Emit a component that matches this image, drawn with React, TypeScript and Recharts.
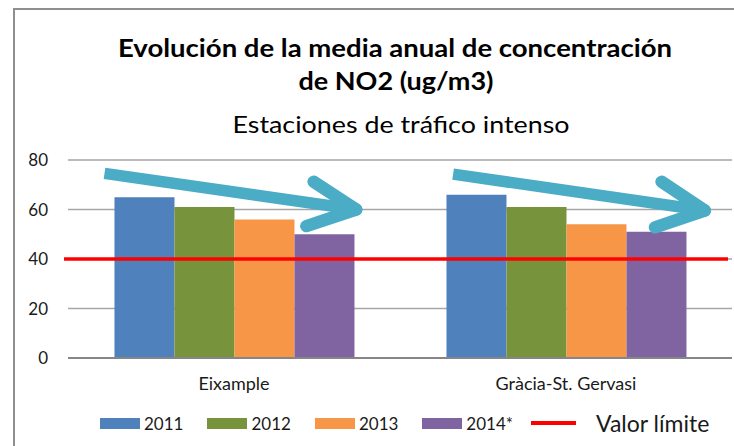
import React from 'react';
import { ComposedChart, Bar, XAxis, YAxis, CartesianGrid, ReferenceLine } from 'recharts';

const stations = ['Eixample', 'Gràcia-St. Gervasi'];
const years = ['2011', '2012', '2013', '2014*'];
const no2_2011 = [65, 66];
const no2_2012 = [61, 61];
const no2_2013 = [56, 54];
const no2_2014 = [50, 51];
const yTicks = [0, 20, 40, 60, 80];
const limitValue = 40;
const limitLabel = 'Valor límite';

// trend arrows: x as a fraction of the plot width (0..1), y in ug/m3
const arrowTail = [{ x: 0.055, y: 74.6 }, { x: 0.58, y: 74.3 }];
const arrowTip = [{ x: 0.434, y: 60 }, { x: 0.959, y: 59.6 }];
const arrowBarbTop = [{ x: 0.37, y: 71.2 }, { x: 0.894, y: 71.2 }];
const arrowBarbBottom = [{ x: 0.359, y: 53.3 }, { x: 0.884, y: 52.8 }];

const series = [no2_2011, no2_2012, no2_2013, no2_2014];
const colors = ['#4F81BD', '#77933C', '#F79646', '#8064A2'];
const arrowColor = '#4BACC6';
const font = 'Lato, "Open Sans", sans-serif';

const data = stations.map((station, i) => {
  const row: any = { station };
  series.forEach((s, k) => { row['y' + k] = s[i]; });
  return row;
});

const App = () => {
  return (
    <div style={{ position: 'absolute', left: 0, top: 0, width: 734, height: 446, background: '#fff', overflow: 'hidden', fontFamily: font }}>
      <div style={{ position: 'absolute', left: 13, top: 8, width: 740, height: 460, borderLeft: '2px solid #8f8f8f', borderTop: '2px solid #8f8f8f' }} />

      <ComposedChart
        width={734}
        height={446}
        data={data}
        margin={{ top: 160, right: 2, bottom: 58, left: 8 }}
        barCategoryGap="14%"
        barGap={0}
        style={{ position: 'absolute', left: 0, top: 0 }}
      >
        <CartesianGrid vertical={false} stroke="#a6a6a6" strokeWidth={1.5} />
        <XAxis
          dataKey="station"
          axisLine={{ stroke: '#868686', strokeWidth: 2 }}
          tickLine={false}
          tickSize={0}
          tickMargin={19}
          tick={{ fill: '#1a1a1a', fontSize: 18, fontFamily: font }}
        />
        <XAxis xAxisId="arrow" type="number" domain={[0, 1]} allowDataOverflow hide />
        <YAxis
          width={60}
          domain={[0, 80]}
          ticks={yTicks}
          axisLine={false}
          tickLine={false}
          tickSize={0}
          tickMargin={20}
          tick={{ fill: '#1a1a1a', fontSize: 17, fontFamily: font }}
        />
        {series.map((_, k) => (
          <Bar key={k} dataKey={'y' + k} name={years[k]} fill={colors[k]} isAnimationActive={false} />
        ))}
        <ReferenceLine
          xAxisId="arrow"
          ifOverflow="visible"
          segment={[{ x: -0.006, y: limitValue }, { x: 0.994, y: limitValue }]}
          stroke="#FF0000"
          strokeWidth={3.5}
        />
        {arrowTail.map((tail, i) => (
          <ReferenceLine key={'shaft' + i} xAxisId="arrow" segment={[tail, arrowTip[i]]}
            stroke={arrowColor} strokeWidth={11.5} strokeLinecap="butt" />
        ))}
        {arrowTip.map((tip, i) => (
          <ReferenceLine key={'top' + i} xAxisId="arrow" segment={[arrowBarbTop[i], tip]}
            stroke={arrowColor} strokeWidth={12.5} strokeLinecap="round" />
        ))}
        {arrowTip.map((tip, i) => (
          <ReferenceLine key={'bot' + i} xAxisId="arrow" segment={[arrowBarbBottom[i], tip]}
            stroke={arrowColor} strokeWidth={12.5} strokeLinecap="round" />
        ))}
      </ComposedChart>

      <svg width={734} height={150} style={{ position: 'absolute', left: 0, top: 0, pointerEvents: 'none' }}>
        <text x={395} y={57} textAnchor="middle" fontFamily={font} fontWeight="bold" fontSize={25} fill="#000"
          textLength={554} lengthAdjust="spacingAndGlyphs">
          Evolución de la media anual de concentración
        </text>
        <text x={396} y={90} textAnchor="middle" fontFamily={font} fontWeight="bold" fontSize={25} fill="#000"
          textLength={195} lengthAdjust="spacingAndGlyphs">
          de NO2 (ug/m3)
        </text>
        <text x={401} y={133} textAnchor="middle" fontFamily={font} fontSize={23} fill="#000"
          textLength={337} lengthAdjust="spacingAndGlyphs">
          Estaciones de tráfico intenso
        </text>
      </svg>

      <div style={{ position: 'absolute', left: 100, top: 410, height: 26, display: 'flex', alignItems: 'center', color: '#1a1a1a' }}>
        {years.map((y, k) => (
          <div key={y} style={{ display: 'flex', alignItems: 'center', marginRight: k === years.length - 1 ? 18 : 24 }}>
            <div style={{ width: 40, height: 11, background: colors[k], marginRight: 4 }} />
            <span style={{ fontSize: 17 }}>{y}</span>
          </div>
        ))}
        <div style={{ display: 'flex', alignItems: 'center' }}>
          <div style={{ width: 45, height: 4, background: '#FF0000', marginRight: 20 }} />
          <span style={{ fontSize: 23 }}>{limitLabel}</span>
        </div>
      </div>
    </div>
  );
};

export default App;
